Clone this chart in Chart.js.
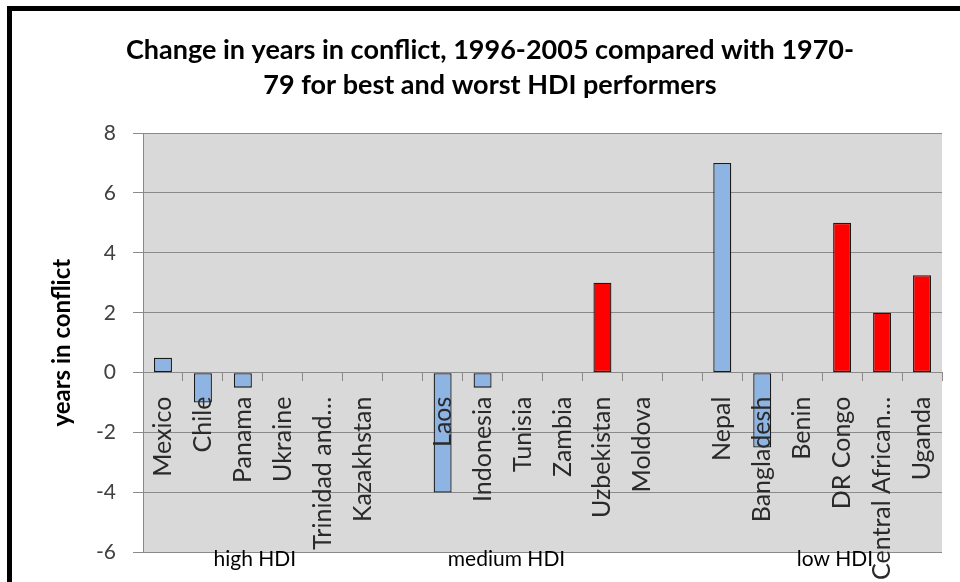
<!DOCTYPE html>
<html><head><meta charset="utf-8">
<script src="https://cdn.jsdelivr.net/npm/chart.js@4"></script>
<style>html,body{margin:0;padding:0;background:#fff}#wrap{width:960px;height:582px;position:relative}</style>
</head><body><div id="wrap"><canvas id="c" width="960" height="582"></canvas></div>
<script>
const titleLines = ["Change in years in conflict, 1996-2005 compared with 1970-", "79 for best and worst HDI performers"];
const yAxisTitle = "years in conflict";
const categories = ["Mexico","Chile","Panama","Ukraine","Trinidad and…","Kazakhstan","","Laos","Indonesia","Tunisia","Zambia","Uzbekistan","Moldova","","Nepal","Bangladesh","Benin","DR Congo","Central African…","Uganda"];
const values = [0.5,-1,-0.5,0,0,0,null,-4,-0.5,0,0,3,0,null,7,-2.5,0,5,2,3.25];
const barSeries = ["blue","blue","blue","blue","blue","blue","blue","blue","blue","blue","blue","red","blue","blue","blue","blue","blue","red","red","red"];
const yTicks = {min:-6, max:8, step:2};
const groupLabels = ["high HDI","medium HDI","low HDI"];
const groupCenters = [2.3, 8.6, 16.82]; // in category-index units

const seriesColors = {blue:"#8DB4E2", red:"#FF0000"};
const FONT = "Lato";

const decor = {
  id:'decor',
  beforeDraw(chart){
    const {ctx, chartArea:a} = chart;
    ctx.save();
    ctx.fillStyle = '#D9D9D9';
    ctx.fillRect(a.left, a.top, a.right - a.left, a.bottom - a.top);
    ctx.restore();
  },
  afterDraw(chart){
    const {ctx} = chart;
    ctx.save();
    ctx.fillStyle = '#000';
    ctx.fillRect(7, 6, 953, 5);
    ctx.fillRect(7, 6, 5, 576);
    ctx.fillStyle = '#000';
    ctx.font = 'bold 27px ' + FONT;
    ctx.textAlign = 'center';
    ctx.textBaseline = 'middle';
    titleLines.forEach((t, i) => ctx.fillText(t, 490, 50 + i * 35));
    const xs = chart.scales.x;
    ctx.font = '21px ' + FONT;
    groupLabels.forEach((t, i) => ctx.fillText(t, xs.getPixelForValue(groupCenters[i]), 559));
    ctx.restore();
  }
};

new Chart(document.getElementById('c'), {
  type: 'bar',
  data: {
    labels: categories,
    datasets: [{
      data: values,
      backgroundColor: barSeries.map(s => seriesColors[s]),
      borderColor: '#1a1a1a',
      borderWidth: 1.3,
      borderSkipped: false,
      barPercentage: 0.45,
      categoryPercentage: 1.0
    }]
  },
  options: {
    responsive: false,
    animation: false,
    layout: {padding: {left: 0, right: 18, top: 133, bottom: 27}},
    plugins: {legend: {display: false}, tooltip: {enabled: false}, title: {display: false}},
    scales: {
      x: {
        position: {y: 0},
        offset: true,
        afterFit(scale){ scale.paddingLeft = 0; scale.paddingRight = 0; scale.paddingTop = 0; scale.paddingBottom = 0; },
        grid: {display: true, drawOnChartArea: false, drawTicks: true, tickLength: 8, color: '#8a8a8a', offset: true},
        border: {display: true, color: '#8a8a8a'},
        ticks: {z: 1, autoSkip: false, minRotation: 90, maxRotation: 90, padding: 16, color: '#2a2a2a', font: {family: FONT, size: 25}}
      },
      y: {
        min: yTicks.min, max: yTicks.max,
        afterFit(scale){ scale.width = 143; },
        grid: {color: '#8a8a8a', tickLength: 10, drawTicks: true},
        border: {display: true, color: '#8a8a8a'},
        ticks: {stepSize: yTicks.step, padding: 17, color: '#404040', font: {family: FONT, size: 21}},
        title: {display: true, text: yAxisTitle, color: '#000', font: {family: FONT, size: 24, weight: 'bold'}, padding: {top: 48, bottom: 0}}
      }
    }
  },
  plugins: [decor]
});
</script></body></html>
